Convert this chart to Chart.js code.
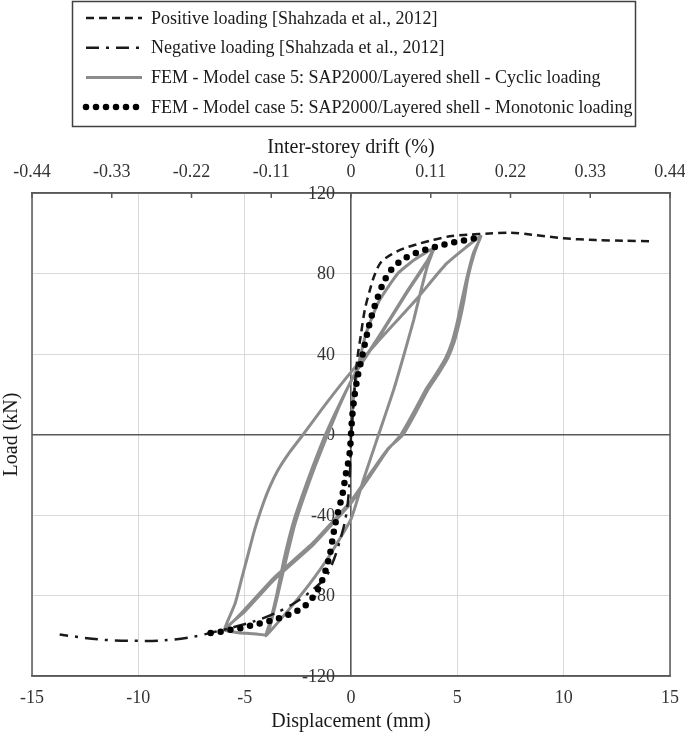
<!DOCTYPE html>
<html>
<head>
<meta charset="utf-8">
<script src="https://cdn.jsdelivr.net/npm/chart.js@4.4.0/dist/chart.umd.min.js"></script>
<style>
    body { margin: 0; background: #fff; }
    #wrap { width: 685px; height: 735px; }
</style>
</head>
<body>
<div id="wrap"><canvas id="myChart" width="685" height="735"></canvas></div>
<script>
// experimental envelope [Shahzada et al., 2012] - displacement (mm) / load (kN)
var posDisp = [0, 0.1, 0.2, 0.3, 0.45, 0.65, 0.92, 1.1, 1.4, 1.9, 2.5, 3.1, 3.8, 4.65, 5.5, 6.5, 7.5, 8.5, 10.0, 11.5, 12.8, 14.1];
var posLoad = [0, 12, 27, 38, 48.5, 62, 73, 79, 85.5, 89.5, 92.5, 94.5, 96.5, 98.5, 99.3, 99.9, 100.3, 99.3, 97.5, 96.6, 96.3, 96];
var negDisp = [0, -0.05, -0.15, -0.3, -0.5, -0.8, -1.2, -1.9, -2.7, -3.6, -4.6, -5.6, -6.5, -7.4, -8.8, -10.4, -11.9, -13.7];
var negLoad = [0, -19, -34, -44, -52, -62, -71, -78, -84, -89, -93, -96, -98.3, -100.5, -102.3, -102.5, -101.8, -99.4];

// FEM cyclic path (+4, -4, +4, -4, -6, +6, -6, +6)
var cycDisp = [0, 0.08, 0.3, 0.7, 1.3, 2.2, 3.0, 3.9,
    3.6, 2.6, 1.3, 0.3, -0.5, -1.2, -1.8, -2.35, -2.75, -3.15, -3.5, -3.8, -4.0,
    -3.0, -2.0, -1.0, 0, 0.6, 1.3, 2.0, 2.5, 2.95, 3.3, 3.6, 3.9,
    3.6, 2.6, 1.3, 0.3, -0.45, -1.1, -1.7, -2.25, -2.65, -3.05, -3.45, -3.75, -3.95,
    -4.6, -5.3, -5.95,
    -5.0, -3.6, -1.8, 0, 1.0, 1.7, 2.35, 3.0, 3.5, 4.0, 4.45, 4.75, 5.0, 5.2, 5.45, 5.75, 6.1,
    4.5, 3.1, 1.25, 0, -1.2, -2.25, -2.9, -3.45, -3.9, -4.25, -4.55, -4.85, -5.15, -5.45, -5.95,
    -5.0, -3.6, -1.8, 0, 1.0, 1.75, 2.45, 3.1, 3.6, 4.1, 4.55, 4.85, 5.1, 5.3, 5.5, 5.8, 6.1];
var cycLoad = [0, 15, 32, 50, 66, 80, 87, 92.5,
    86, 70, 48, 32, 16, 0, -16, -32, -45, -62, -80, -93, -100,
    -88, -75, -60, -42, -22, 0, 22, 40, 57, 72, 84, 92.5,
    86.5, 70.5, 48.5, 32.5, 16.5, 0, -16, -32, -45, -62, -80, -93, -99.5,
    -99, -98.5, -97,
    -88, -72, -55, -34, -19, -8, 0, 12, 22, 30, 38, 46, 56, 66, 78, 90, 98.5,
    85, 67.5, 46, 31, 15, 0, -9, -18, -28, -38, -48, -60, -72, -84, -97,
    -87, -71, -54, -33, -18, -7, 0, 12, 22, 30, 38, 46, 56, 66, 78, 90, 98.5];

// FEM monotonic, negative end -> 0 -> positive end
var monoDisp = [-6.6, -6.1, -5.65, -5.1, -4.55, -4.1, -3.6, -3.15, -2.7, -2.2, -1.8, -1.5, -1.3, -1.15, -1.0, -0.85, -0.75, -0.6, -0.45, -0.35, -0.25, -0.15, -0.05,
    0, 0.05, 0.15, 0.3, 0.55, 0.78, 1.0, 1.25, 1.55, 1.9, 2.25, 2.65, 3.1, 3.6, 4.1, 4.6, 5.15, 5.6, 6.1];
var monoLoad = [-98.6, -98, -97, -96, -94.5, -93.4, -92, -90.4, -88.5, -85.5, -81, -76, -71, -66, -60, -51, -45, -38, -32, -27, -20, -15, -8,
    0, 8, 18, 28, 40, 51, 60, 68, 76, 82, 85.5, 88.3, 90.4, 92.2, 93.6, 95, 96.1, 97, 98.3];

var dispTicks = [-15, -10, -5, 0, 5, 10, 15];
var driftTicks = [-0.44, -0.33, -0.22, -0.11, 0, 0.11, 0.22, 0.33, 0.44];
var loadTicks = [-120, -80, -40, 0, 40, 80, 120];

var seriesNames = [
    "Positive loading [Shahzada et al., 2012]",
    "Negative loading [Shahzada et al., 2012]",
    "FEM - Model case 5: SAP2000/Layered shell - Cyclic loading",
    "FEM - Model case 5: SAP2000/Layered shell - Monotonic loading"
];

function toPoints(xs, ys) {
    var pts = [];
    for (var i = 0; i < xs.length; i++) {
        pts.push({ x: xs[i], y: ys[i] });
    }
    return pts;
}

function fixTicks(values) {
    return function (scale) {
        scale.ticks = values.map(function (v) { return { value: v }; });
    };
}

function noSidePadding(height) {
    return function (s) {
        s.height = height;
        s.paddingLeft = 0;
        s.paddingRight = 0;
    };
}

var AXIS = '#595959';
var GRID = '#d9d9d9';
var SERIF = '"Liberation Serif", "Times New Roman", serif';

Chart.defaults.font.family = SERIF;
Chart.defaults.font.size = 18;
Chart.defaults.color = '#262626';

// plot frame, inward ticks of the drift axis, load labels beside the x=0 axis
var frame = {
    id: 'frame',
    beforeDatasetsDraw: function (chart) {
        var ctx = chart.ctx, a = chart.chartArea, top = chart.scales.x2, ys = chart.scales.y;
        var axisX = chart.scales.x.getPixelForValue(0);
        ctx.save();
        ctx.strokeStyle = AXIS;
        ctx.lineWidth = 1.5;
        ctx.strokeRect(a.left, a.top, a.right - a.left, a.bottom - a.top);
        ctx.beginPath();
        top.ticks.forEach(function (t) {
            var px = top.getPixelForValue(t.value);
            ctx.moveTo(px, a.top);
            ctx.lineTo(px, a.top + 5);
        });
        ctx.stroke();
        ctx.fillStyle = '#333';
        ctx.font = '18px ' + SERIF;
        ctx.textAlign = 'right';
        ctx.textBaseline = 'middle';
        ys.ticks.forEach(function (t) {
            ctx.fillText(String(t.value), axisX - 16, ys.getPixelForValue(t.value) + 1);
        });
        ctx.restore();
    }
};

// boxed legend, one entry per row
var boxLegend = {
    id: 'boxLegend',
    afterDraw: function (chart) {
        var ctx = chart.ctx;
        ctx.save();
        ctx.strokeStyle = '#404040';
        ctx.lineWidth = 1.5;
        ctx.strokeRect(72.5, 1.5, 563, 125);
        chart.data.datasets.forEach(function (ds, i) {
            var y = 18 + i * 29.7;
            ctx.beginPath();
            ctx.setLineDash(ds.borderDash || []);
            ctx.lineCap = ds.borderCapStyle || 'butt';
            ctx.lineWidth = ds.borderWidth;
            ctx.strokeStyle = ds.borderColor;
            ctx.moveTo(86, y);
            ctx.lineTo(142, y);
            ctx.stroke();
            ctx.setLineDash([]);
            ctx.fillStyle = '#1a1a1a';
            ctx.font = '18px ' + SERIF;
            ctx.textBaseline = 'middle';
            ctx.fillText(ds.label, 151, y + 1);
        });
        ctx.restore();
    }
};

var ctx = document.getElementById("myChart");
var chart = new Chart(ctx, {
    type: 'scatter',
    data: {
        datasets: [
            { label: seriesNames[0], data: toPoints(posDisp, posLoad), showLine: true, pointRadius: 0,
              borderColor: '#1a1a1a', borderWidth: 2.5, borderDash: [8, 5], tension: 0.3, order: 2 },
            { label: seriesNames[1], data: toPoints(negDisp, negLoad), showLine: true, pointRadius: 0,
              borderColor: '#1a1a1a', borderWidth: 2.5, borderDash: [13, 7, 3, 7], tension: 0.3, order: 2 },
            { label: seriesNames[2], data: toPoints(cycDisp, cycLoad), showLine: true, pointRadius: 0,
              borderColor: '#8c8c8c', borderWidth: 3, tension: 0.15, order: 3 },
            { label: seriesNames[3], data: toPoints(monoDisp, monoLoad), showLine: true, pointRadius: 0,
              borderColor: '#000000', borderWidth: 6.5, borderDash: [0, 10], borderCapStyle: 'round', tension: 0.3, order: 1 }
        ]
    },
    options: {
        responsive: false,
        animation: false,
        layout: { padding: { top: 133, right: 15, bottom: 0, left: 0 } },
        plugins: { legend: { display: false }, tooltip: { enabled: false } },
        scales: {
            x: {
                type: 'linear', position: 'bottom', min: -15, max: 15,
                afterBuildTicks: fixTicks(dispTicks),
                afterFit: noSidePadding(59),
                ticks: { padding: 11, color: '#333' },
                grid: { color: GRID, drawTicks: false },
                border: { color: AXIS, width: 1.5 },
                title: { display: true, text: 'Displacement (mm)', font: { size: 20 }, color: '#1a1a1a', padding: { top: 0, bottom: 1 } }
            },
            x2: {
                type: 'linear', position: 'top', min: -0.44, max: 0.44,
                afterBuildTicks: fixTicks(driftTicks),
                afterFit: noSidePadding(60),
                ticks: { padding: 10, color: '#333', callback: function (v) { return v === 0 ? '0' : v.toFixed(2); } },
                grid: { drawOnChartArea: false, drawTicks: false },
                border: { color: AXIS, width: 1.5 },
                title: { display: true, text: 'Inter-storey drift (%)', font: { size: 20 }, color: '#1a1a1a', padding: { top: 3, bottom: 0 } }
            },
            y: {
                type: 'linear', position: { x: 0 }, min: -120, max: 120,
                afterBuildTicks: fixTicks(loadTicks),
                ticks: { display: false },
                grid: {
                    drawTicks: false,
                    color: function (c) { return c.tick && c.tick.value === 0 ? AXIS : GRID; },
                    lineWidth: function (c) { return c.tick && c.tick.value === 0 ? 1.5 : 1; }
                },
                border: { color: AXIS, width: 1.5 }
            },
            yL: {
                type: 'linear', position: 'left', min: -120, max: 120,
                afterFit: function (s) { s.width = 32; },
                ticks: { display: false },
                grid: { display: false },
                border: { display: false },
                title: { display: true, text: 'Load (kN)', font: { size: 20 }, color: '#1a1a1a', padding: 0 }
            }
        }
    },
    plugins: [frame, boxLegend]
});
</script>
</body>
</html>
